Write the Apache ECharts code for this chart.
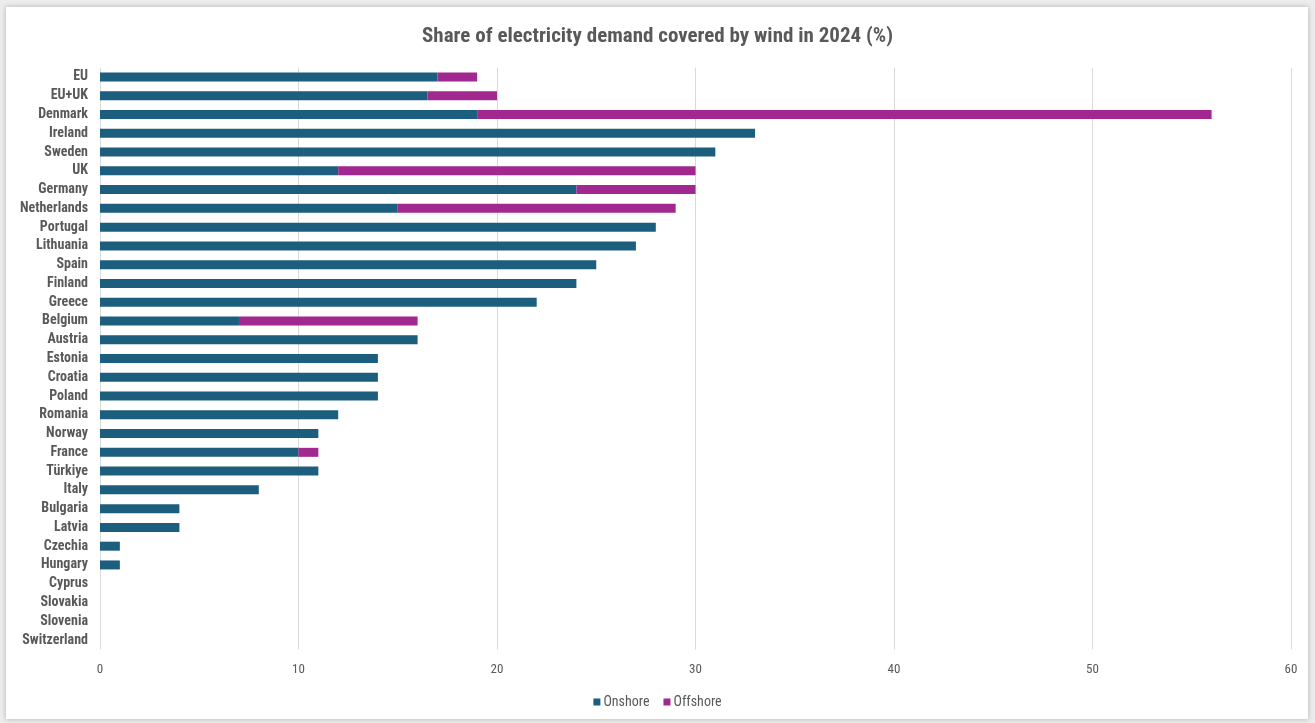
<!DOCTYPE html>
<html><head><meta charset="utf-8">
<script src="https://cdn.jsdelivr.net/npm/echarts@6/dist/echarts.min.js"></script>
<style>
html,body{margin:0;padding:0;background:#ececec;width:1315px;height:723px;overflow:hidden;}
#card{position:absolute;left:6px;top:7px;width:1302px;height:712px;background:#fff;box-shadow:0 0 5px rgba(0,0,0,0.25);}
#c{position:absolute;left:-6px;top:-7px;width:1315px;height:723px;}
</style></head>
<body><div id="card"><div id="c"></div></div>
<script>
const categories = ["EU","EU+UK","Denmark","Ireland","Sweden","UK","Germany","Netherlands","Portugal","Lithuania","Spain","Finland","Greece","Belgium","Austria","Estonia","Croatia","Poland","Romania","Norway","France","Türkiye","Italy","Bulgaria","Latvia","Czechia","Hungary","Cyprus","Slovakia","Slovenia","Switzerland"];
const onshore  = [17,16.5,19,33,31,12,24,15,28,27,25,24,22,7,16,14,14,14,12,11,10,11,8,4,4,1,1,0,0,0,0];
const offshore = [2,3.5,37,0,0,18,6,14,0,0,0,0,0,9,0,0,0,0,0,0,1,0,0,0,0,0,0,0,0,0,0];
const xTicks = [0,10,20,30,40,50,60];

const FONT = '"Liberation Sans Narrow","Roboto Condensed",Roboto,sans-serif';
const chart = echarts.init(document.getElementById('c'));
chart.setOption({
  animation:false,
  title:{text:'Share of electricity demand covered by wind in 2024 (%)',left:'center',top:21,
    textStyle:{fontFamily:FONT,fontSize:21,fontWeight:'bold',color:'#595959'}},
  legend:{bottom:9,left:'center',itemWidth:7,itemHeight:7,itemGap:14,icon:'rect',
    textStyle:{fontFamily:FONT,fontSize:14,color:'#595959',padding:[0,0,0,-2]},
    data:['Onshore','Offshore']},
  grid:{left:100,right:24,top:67.6,bottom:73.6,containLabel:false},
  xAxis:{type:'value',min:xTicks[0],max:xTicks[xTicks.length-1],interval:10,
    axisLine:{show:false},axisTick:{show:false},
    splitLine:{lineStyle:{color:'#d9d9d9',width:1}},
    axisLabel:{fontFamily:FONT,fontSize:13,color:'#595959',margin:14}},
  yAxis:{type:'category',data:categories,inverse:true,
    axisLine:{show:false},axisTick:{show:false},
    axisLabel:{fontFamily:FONT,fontSize:14,fontWeight:'bold',color:'#595959',margin:12}},
  series:[
    {name:'Onshore',type:'bar',stack:'t',data:onshore,barWidth:9,
      itemStyle:{color:'#1b5e7e'}},
    {name:'Offshore',type:'bar',stack:'t',data:offshore,barWidth:9,
      itemStyle:{color:'#a0288f'}}
  ]
});
</script></body></html>
